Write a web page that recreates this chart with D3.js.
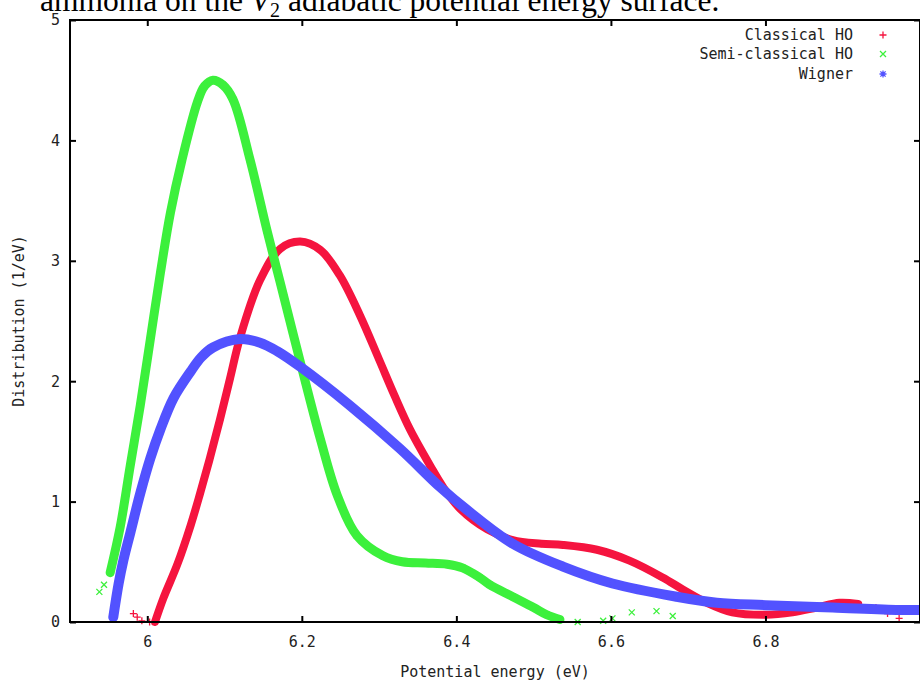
<!DOCTYPE html>
<html>
<head>
<meta charset="utf-8">
<script src="https://cdn.jsdelivr.net/npm/d3@7"></script>
<style>
  body { margin: 0; background: #fff; }
  svg { display: block; }
</style>
</head>
<body>
<div id="main"></div>
<script>
const cte = {
    w: 920,
    h: 682,
    left: 70,
    right: 920,
    top: 20,
    bottom: 622,
    mono: "'DejaVu Sans Mono', monospace",
};

// axis ticks
const xTicks = [6, 6.2, 6.4, 6.6, 6.8];
const yTicks = [0, 1, 2, 3, 4, 5];
const xDomain = [5.9, 7.0];
const yDomain = [0, 5];

// Classical HO (red +)
const classicalX = [6.010, 6.021, 6.039, 6.056, 6.068, 6.081, 6.094, 6.107, 6.120, 6.146, 6.172, 6.198, 6.224, 6.249, 6.275, 6.300, 6.320, 6.340, 6.366, 6.383, 6.405, 6.440, 6.473, 6.510, 6.538, 6.582, 6.624, 6.667, 6.693, 6.724, 6.757, 6.800, 6.835, 6.866, 6.896, 6.920];
const classicalY = [0.00, 0.20, 0.48, 0.80, 1.06, 1.36, 1.68, 2.02, 2.36, 2.84, 3.10, 3.16, 3.09, 2.88, 2.55, 2.18, 1.88, 1.60, 1.30, 1.12, 0.94, 0.77, 0.68, 0.65, 0.64, 0.60, 0.51, 0.37, 0.27, 0.16, 0.08, 0.06, 0.08, 0.12, 0.16, 0.15];
const classicalOutX = [5.982, 5.987, 5.993, 6.003, 6.943, 6.958, 6.973];
const classicalOutY = [0.07, 0.04, 0.01, 0.00, 0.12, 0.07, 0.03];

// Semi-classical HO (green x)
const semiX = [5.952, 5.965, 5.978, 5.991, 6.004, 6.017, 6.030, 6.045, 6.065, 6.074, 6.085, 6.098, 6.111, 6.133, 6.155, 6.172, 6.198, 6.224, 6.246, 6.271, 6.305, 6.330, 6.360, 6.388, 6.408, 6.430, 6.443, 6.473, 6.500, 6.517, 6.534];
const semiY = [0.41, 0.79, 1.30, 1.80, 2.35, 2.90, 3.40, 3.84, 4.32, 4.45, 4.50, 4.46, 4.34, 3.84, 3.25, 2.82, 2.16, 1.52, 1.05, 0.72, 0.55, 0.50, 0.49, 0.48, 0.45, 0.37, 0.31, 0.21, 0.12, 0.06, 0.02];
const semiOutX = [5.938, 5.944, 6.557, 6.590, 6.602, 6.627, 6.659, 6.680];
const semiOutY = [0.25, 0.31, 0.00, 0.01, 0.03, 0.08, 0.09, 0.05];

// Wigner (blue *)
const wignerX = [5.956, 5.963, 5.969, 5.978, 5.991, 6.004, 6.017, 6.034, 6.056, 6.070, 6.085, 6.120, 6.146, 6.168, 6.198, 6.262, 6.327, 6.379, 6.414, 6.473, 6.538, 6.602, 6.685, 6.737, 6.800, 6.887, 6.973, 7.000];
const wignerY = [0.04, 0.32, 0.51, 0.74, 1.07, 1.36, 1.60, 1.86, 2.08, 2.20, 2.28, 2.35, 2.32, 2.25, 2.12, 1.80, 1.44, 1.12, 0.93, 0.65, 0.46, 0.32, 0.21, 0.16, 0.14, 0.12, 0.10, 0.10];

const seriesNames = ["Classical HO", "Semi-classical HO", "Wigner"];
const seriesColors = ["#f5143f", "#3cf03c", "#5252ff"];
const bandWidths = [8, 9, 10];

const markerPaths = {
    plus: "M-3.5,0H3.5M0,-3.5V3.5",
    cross: "M-3,-3L3,3M-3,3L3,-3",
    star: "M-3.5,0H3.5M0,-3.5V3.5M-2.6,-2.6L2.6,2.6M-2.6,2.6L2.6,-2.6",
};
const seriesMarkers = ["plus", "cross", "star"];

function zip(xs, ys) {
    return xs.map((x, i) => ({ x: x, y: ys[i] }));
}

const series = [
    { band: zip(classicalX, classicalY), out: zip(classicalOutX, classicalOutY) },
    { band: zip(semiX, semiY), out: zip(semiOutX, semiOutY) },
    { band: zip(wignerX, wignerY), out: [] },
];

const svg = d3.select("#main").append("svg")
    .attr("width", cte.w)
    .attr("height", cte.h);

const xScale = d3.scaleLinear().domain(xDomain).range([cte.left, cte.right]);
const yScale = d3.scaleLinear().domain(yDomain).range([cte.bottom, cte.top]);

// caption text cut off at the top of the picture
const title = svg.append("text")
    .attr("x", 40)
    .attr("y", 11)
    .style("font-family", "'Liberation Serif', serif")
    .style("font-size", "31.5px")
    .style("fill", "#000");
title.append("tspan").text("ammonia on the ");
title.append("tspan").style("font-style", "italic").text("V");
title.append("tspan").attr("dy", 6).style("font-size", "20px").text("2");
title.append("tspan").attr("dy", -6).text(" adiabatic potential energy surface.");

// data
const plot = svg.append("g");
const line = d3.line()
    .curve(d3.curveCatmullRom)
    .x(d => xScale(d.x))
    .y(d => yScale(d.y));

series.forEach((s, i) => {
    const g = plot.append("g");
    g.append("path")
        .datum(s.band)
        .attr("d", line)
        .attr("fill", "none")
        .attr("stroke", seriesColors[i])
        .attr("stroke-width", bandWidths[i])
        .attr("stroke-linecap", "round")
        .attr("stroke-linejoin", "round");

    g.selectAll("path.pt")
        .data(s.band.concat(s.out))
        .enter().append("path")
        .attr("class", "pt")
        .attr("d", markerPaths[seriesMarkers[i]])
        .attr("transform", d => `translate(${xScale(d.x)},${yScale(d.y)})`)
        .attr("fill", "none")
        .attr("stroke", seriesColors[i])
        .attr("stroke-width", 1.3);
});

// axes, ticks pointing inward
svg.append("g")
    .attr("transform", `translate(0,${cte.bottom})`)
    .call(d3.axisBottom(xScale).tickValues(xTicks).tickSize(-6).tickPadding(14)
        .tickFormat(d3.format("")));
svg.append("g")
    .attr("transform", `translate(0,${cte.top})`)
    .call(d3.axisTop(xScale).tickValues(xTicks).tickSize(-6).tickFormat(""));
svg.append("g")
    .attr("transform", `translate(${cte.left},0)`)
    .call(d3.axisLeft(yScale).tickValues(yTicks).tickSize(-6).tickPadding(10)
        .tickFormat(d3.format("d")));
svg.append("g")
    .attr("transform", `translate(${cte.right},0)`)
    .call(d3.axisRight(yScale).tickValues(yTicks).tickSize(-6).tickFormat(""));

svg.selectAll(".domain").remove();
svg.selectAll(".tick line").attr("stroke", "#000").attr("stroke-width", 2);
svg.selectAll(".tick text")
    .style("font-family", cte.mono)
    .style("font-size", "15px")
    .style("fill", "#222");

svg.append("rect")
    .attr("x", cte.left)
    .attr("y", cte.top)
    .attr("width", cte.right - cte.left)
    .attr("height", cte.bottom - cte.top)
    .attr("fill", "none")
    .attr("stroke", "#000")
    .attr("stroke-width", 2);

// axis labels
svg.append("text")
    .attr("x", (cte.left + cte.right) / 2)
    .attr("y", 677)
    .attr("text-anchor", "middle")
    .style("font-family", cte.mono)
    .style("font-size", "15px")
    .style("fill", "#222")
    .text("Potential energy (eV)");

svg.append("text")
    .attr("transform", `translate(24,${(cte.top + cte.bottom) / 2}) rotate(-90)`)
    .attr("text-anchor", "middle")
    .style("font-family", cte.mono)
    .style("font-size", "15px")
    .style("fill", "#222")
    .text("Distribution (1/eV)");

// legend
const legendY = [35, 54, 74];
seriesNames.forEach((name, i) => {
    svg.append("text")
        .attr("x", 853)
        .attr("y", legendY[i] + 5)
        .attr("text-anchor", "end")
        .style("font-family", cte.mono)
        .style("font-size", "15px")
        .style("fill", "#222")
        .text(name);
    svg.append("path")
        .attr("d", markerPaths[seriesMarkers[i]])
        .attr("transform", `translate(883,${legendY[i]})`)
        .attr("fill", "none")
        .attr("stroke", seriesColors[i])
        .attr("stroke-width", 1.3);
});
</script>
</body>
</html>
